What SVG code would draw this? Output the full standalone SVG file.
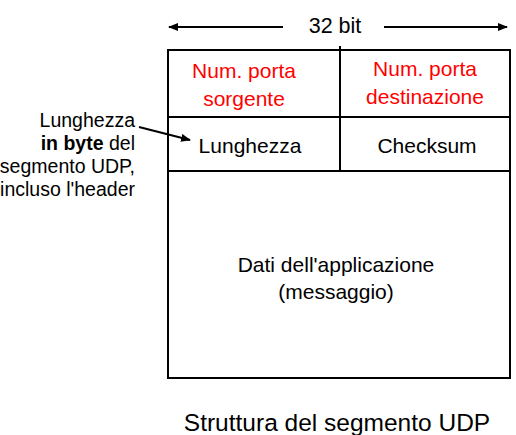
<svg xmlns="http://www.w3.org/2000/svg" width="516" height="435" viewBox="0 0 516 435">
<style>
text{font-family:"Liberation Sans",Arial,sans-serif;fill:#000}
.c{text-anchor:middle;font-size:21px}
.r{fill:#ff0000}
.l{text-anchor:end;font-size:19.5px}
.ln{stroke:#000;stroke-width:2;fill:none}
</style>
<defs>
<marker id="ah" markerWidth="10" markerHeight="8" refX="9" refY="4" orient="auto" markerUnits="userSpaceOnUse">
<path d="M0,0 L10,4 L0,8 Z" fill="#000"/>
</marker>
</defs>
<g id="width">
<text class="c" x="335" y="33" style="font-size:21.5px">32 bit</text>
</g>
<g id="connectors">
<line class="ln" x1="283" y1="27" x2="169" y2="27" marker-end="url(#ah)"/>
<line class="ln" x1="384" y1="27" x2="507" y2="27" marker-end="url(#ah)"/>
<line class="ln" x1="139" y1="127" x2="190" y2="140" marker-end="url(#ah)"/>
</g>
<g id="segment">
<rect class="ln" x="168" y="50" width="342" height="328"/>
<line class="ln" x1="340" y1="46" x2="340" y2="171"/>
<line class="ln" x1="168" y1="117" x2="510" y2="117"/>
<line class="ln" x1="168" y1="171" x2="510" y2="171"/>
</g>
<g id="src-port">
<text class="c r" x="244" y="78">Num. porta</text>
<text class="c r" x="244" y="106">sorgente</text>
</g>
<g id="dst-port">
<text class="c r" x="425" y="76">Num. porta</text>
<text class="c r" x="425" y="104">destinazione</text>
</g>
<g id="length">
<text class="c" x="250" y="153">Lunghezza</text>
</g>
<g id="checksum">
<text class="c" x="427" y="153">Checksum</text>
</g>
<g id="data">
<text class="c" x="336" y="272">Dati dell'applicazione</text>
<text class="c" x="336" y="299">(messaggio)</text>
</g>
<g id="length-note">
<text class="l" x="135" y="127">Lunghezza</text>
<text class="l" x="135" y="150"><tspan font-weight="bold">in byte</tspan> del</text>
<text class="l" x="135" y="173">segmento UDP,</text>
<text class="l" x="135" y="196">incluso l'header</text>
</g>
<g id="caption">
<text class="c" x="337" y="431" style="font-size:24.5px">Struttura del segmento UDP</text>
</g>
</svg>
